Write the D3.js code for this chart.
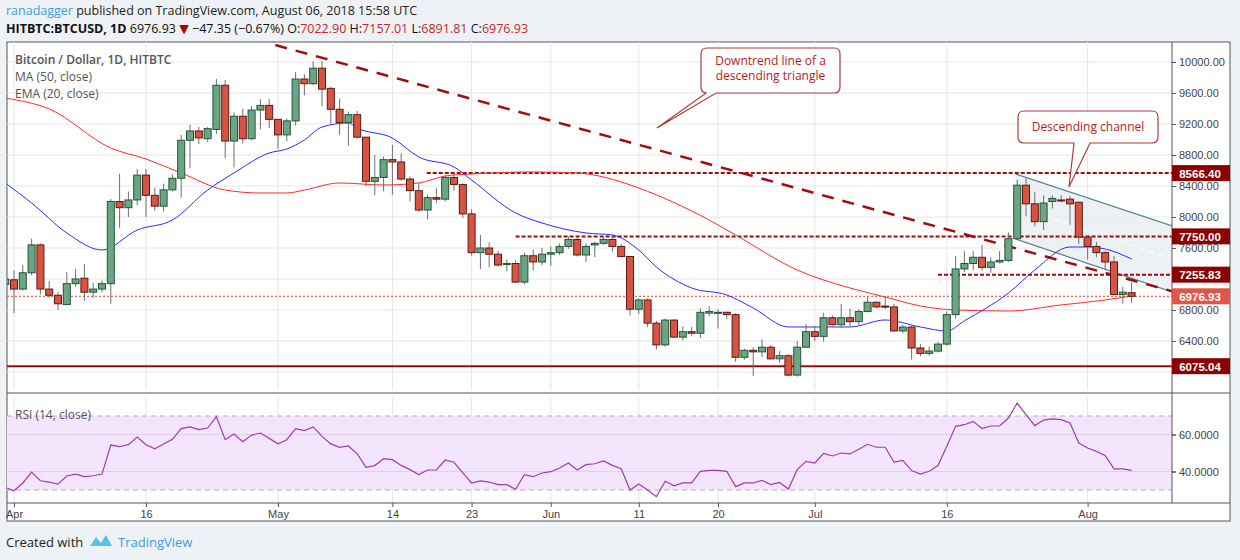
<!DOCTYPE html>
<html><head><meta charset="utf-8">
<script src="https://cdn.jsdelivr.net/npm/d3@7"></script>
<style>
body{margin:0;background:#eef2f6;font-family:"Open Sans","DejaVu Sans",sans-serif;}
svg{display:block}
</style></head><body>
<svg id="c" width="1240" height="560"></svg>
<script>
// ---- data (day index 0 = 2018-03-31) ----
const ohlc = [
[7130,7250,7050,7200],[7190,7310,6760,7070],[7070,7380,7050,7280],[7280,7720,7250,7640],[7640,7660,7000,7070],
[7070,7170,6960,6990],[6990,7030,6800,6880],[6870,7290,6860,7140],[7140,7330,7100,7200],[7210,7390,6920,7030],
[7030,7150,6960,7070],[7070,7180,7030,7140],[7140,8230,6880,8200],[8200,8560,7860,8120],[8120,8330,8000,8220],
[8220,8620,8150,8540],[8540,8620,8000,8280],[8280,8380,8080,8140],[8140,8430,8070,8350],[8350,8550,8330,8500],
[8500,9060,8250,8990],[8990,9190,8630,9110],[9110,9160,8940,9020],[9010,9160,8970,9140],[9130,9780,9070,9700],
[9700,9770,8760,8980],[8980,9350,8640,9300],[9300,9400,8950,9010],[9010,9430,8990,9380],[9380,9520,9130,9440],
[9440,9520,9150,9260],[9260,9260,8880,9060],[9060,9270,8980,9240],[9240,9870,9180,9780],[9780,9840,9570,9720],
[9720,10010,9700,9920],[9920,10010,9430,9650],[9660,9680,9200,9390],[9390,9530,9060,9220],[9220,9360,8920,9320],
[9320,9370,9010,9030],[9030,9030,8400,8460],[8460,8800,8280,8510],[8510,8780,8330,8740],[8740,8930,8290,8710],
[8710,8820,8470,8490],[8490,8520,8200,8340],[8340,8440,8070,8090],[8090,8290,7970,8250],[8250,8370,8180,8230],
[8230,8540,8200,8510],[8510,8560,8340,8420],[8420,8430,7990,8040],[8040,8100,7500,7540],[7540,7770,7330,7600],
[7600,7670,7350,7520],[7520,7560,7360,7380],[7390,7450,7300,7400],[7400,7440,7150,7160],[7160,7540,7130,7500],
[7500,7580,7310,7420],[7420,7600,7380,7520],[7520,7620,7370,7540],[7540,7660,7510,7620],[7620,7750,7590,7710],
[7710,7730,7490,7510],[7510,7660,7420,7620],[7640,7680,7480,7660],[7660,7750,7640,7710],[7710,7750,7550,7620],
[7620,7650,7480,7490],[7490,7500,6730,6810],[6810,6950,6750,6930],[6930,6950,6580,6630],[6630,6660,6290,6350],
[6350,6690,6330,6670],[6670,6680,6440,6450],[6450,6590,6410,6520],[6520,6580,6460,6500],[6500,6820,6440,6770],
[6760,6850,6720,6780],[6760,6810,6560,6770],[6770,6780,6680,6740],[6740,6760,6130,6190],[6190,6300,6160,6280],
[6280,6320,5950,6260],[6260,6420,6190,6320],[6320,6350,6160,6170],[6170,6270,6120,6210],[6210,6230,5950,5960],
[5960,6400,5940,6320],[6320,6620,6310,6520],[6520,6590,6400,6460],[6460,6760,6390,6700],[6700,6730,6600,6610],
[6610,6880,6570,6700],[6700,6820,6590,6650],[6650,6810,6600,6780],[6780,6970,6770,6900],[6900,6910,6820,6840],
[6850,6980,6810,6840],[6840,6880,6520,6530],[6530,6610,6500,6580],[6580,6600,6160,6310],[6310,6360,6200,6240],
[6240,6330,6210,6270],[6270,6390,6250,6360],[6360,6780,6340,6740],[6740,7500,6690,7330],[7330,7560,7290,7400],
[7400,7560,7310,7480],[7480,7640,7310,7350],[7350,7480,7280,7420],[7420,7560,7400,7440],[7440,7800,7420,7720],
[7720,8480,7700,8410],[8410,8500,8010,8170],[8170,8320,7880,7940],[7940,8280,7830,8180],[8200,8280,8110,8240],
[8220,8280,8190,8210],[8230,8270,7900,8170],[8190,8200,7650,7740],[7740,7760,7450,7620],[7620,7680,7480,7540],
[7540,7560,7330,7420],[7420,7500,6990,7000],[7000,7100,6880,7030],[7022.90,7157.01,6891.81,6976.93]];

const maDays   = [0,5,12,16,20,25,29,32,34,38,43,47,50,53,60,65,68,70,72,80,83,90,96,100,104,108,114,120,125,128];
const maValues = [9535,9394,8890,8748,8568,8348,8310,8310,8348,8439,8413,8439,8529,8555,8581,8568,8516,8452,8374,7961,7768,7316,7084,6968,6852,6800,6787,6865,6929,6981];
const emaDays   = [0,3,7,11,15,19,23,26,30,32,34,36,39,40,44,47,51,53,58,61,66,69,72,74,78,82,85,89,96,100,104,107,109,114,117,121,123,125,128];
const emaValues = [8439,8181,7794,7574,7832,7961,8348,8568,8826,8877,8994,9161,9213,9148,9019,8774,8645,8477,8052,7923,7794,7768,7574,7355,7084,6994,6826,6581,6581,6671,6581,6529,6660,7019,7316,7613,7613,7587,7458];
const rsi = [31.4,29.6,33.8,39.7,35,34.3,33.2,37.6,38.6,37.2,37.7,38.6,54.3,53.4,54.5,58.6,54.5,52.3,54.9,57.4,
63.2,64.1,62.6,63.5,69.6,57.2,60.3,56.1,59.7,60.8,57.9,55,57.2,63.2,62.1,64.1,59,54.9,53.1,53.8,
49.5,42.3,43.2,46.9,46.4,43.3,41,38.3,40.8,40.8,46.2,45,39.2,33.8,34.9,34.3,32.9,32.9,30.4,38.3,
37.2,39.2,39.9,41.9,44.6,40.8,43.7,44.2,45.7,43.3,41.5,30,33.2,30,26.4,34.7,32.3,33.8,33.8,40.1,
40.6,40.6,40.1,31.8,33.8,33.8,35.2,32.9,34.1,30.5,41,45.5,44.6,49.8,48.4,50,49.5,52,54.7,53.1,
53.1,45.1,46,40.5,38.6,40.1,43.2,53.6,64.4,65.3,67.1,63.2,64.6,64.6,68.9,77,70.7,64.8,67.8,68.4,
68,66.2,55.4,52.7,50.9,48.7,41.4,41.4,40.6];
const xTickDays   = [1,16,31,44,53,62,72,81,92,107,123];
const xTickLabels = ["Apr","16","May","14","23","Jun","11","20","Jul","16","Aug"];
const priceTicks  = [6400,6800,7600,8000,8400,8800,9200,9600,10000];
const levels      = [{v:8566.40,from:47.9,dash:"4,2"},{v:7750.00,from:58,dash:"4,2"},{v:7255.83,from:106,dash:"4,2"},{v:6075.04,from:-2,dash:null}];
const trendLine   = [[30.7,10219],[133,7030]];
const chanUpper   = [[114.8,8555],[133,7871]];
const chanLower   = [[114.8,7716],[133,7019]];

// ---- scales ----
const svg = d3.select("#c");
const L=7, R=1172, T=42, MB=390, RT=397, RB=503;
const x = d3.scaleLinear().domain([0,128]).range([5.2,1131.6]);
const y = d3.scaleLinear().domain([6000,10000]).range([372,62]);
const yr = d3.scaleLinear().domain([30,70]).range([490,416]);

svg.append("rect").attr("x",L).attr("y",T).attr("width",1230-L).attr("height",RB+18-T).attr("fill","#fff").attr("stroke","#555");
const defs=svg.append("defs");
defs.append("clipPath").attr("id","cm").append("rect").attr("x",L).attr("y",T).attr("width",R-L).attr("height",MB-T);
defs.append("clipPath").attr("id","cr").append("rect").attr("x",L).attr("y",RT).attr("width",R-L).attr("height",RB-RT);

const gm=svg.append("g").attr("clip-path","url(#cm)");
const gr=svg.append("g").attr("clip-path","url(#cr)");

xTickDays.forEach(d=>{
  [gm,gr].forEach(g=>g.append("line").attr("x1",x(d)).attr("x2",x(d)).attr("y1",T).attr("y2",RB).attr("stroke","#e6e6e6"));
});
priceTicks.concat([6000,7200]).forEach(p=>gm.append("line").attr("x1",L).attr("x2",R).attr("y1",y(p)).attr("y2",y(p)).attr("stroke","#e6e6e6"));

const cpoly=[chanUpper[0],chanUpper[1],chanLower[1],chanLower[0]];
gm.append("path").attr("d",d3.line().x(d=>x(d[0])).y(d=>y(d[1]))(cpoly)+"Z").attr("fill","#e9edf1").attr("opacity",0.8);
gm.append("line").attr("x1",x(chanUpper[0][0])).attr("y1",y((chanUpper[0][1]+chanLower[0][1])/2)).attr("x2",x(133)).attr("y2",y((chanUpper[1][1]+chanLower[1][1])/2)).attr("stroke","#fff").attr("stroke-dasharray","6,4");
[chanUpper,chanLower].forEach(c=>gm.append("line").attr("x1",x(c[0][0])).attr("y1",y(c[0][1])).attr("x2",x(c[1][0])).attr("y2",y(c[1][1])).attr("stroke","#4e7f86").attr("stroke-width",1.2));

levels.forEach(l=>{
  const ln=gm.append("line").attr("x1",x(l.from)).attr("x2",R).attr("y1",y(l.v)).attr("y2",y(l.v)).attr("stroke","#9e0b0b").attr("stroke-width",2);
  if(l.dash) ln.attr("stroke-dasharray",l.dash);
});
const last=ohlc[ohlc.length-1][3];
gm.append("line").attr("x1",L).attr("x2",R).attr("y1",y(last)).attr("y2",y(last)).attr("stroke","#e2402e").attr("stroke-dasharray","2,2");

gm.append("path").datum(maDays.map((d,i)=>[d,maValues[i]])).attr("d",d3.line().curve(d3.curveMonotoneX).x(d=>x(d[0])).y(d=>y(d[1]))).attr("fill","none").attr("stroke","#ff2a2a").attr("stroke-width",1);
gm.append("path").datum(emaDays.map((d,i)=>[d,emaValues[i]])).attr("d",d3.line().curve(d3.curveMonotoneX).x(d=>x(d[0])).y(d=>y(d[1]))).attr("fill","none").attr("stroke","#2b2bff").attr("stroke-width",1);

gm.append("line").attr("x1",x(trendLine[0][0])).attr("y1",y(trendLine[0][1])).attr("x2",x(trendLine[1][0])).attr("y2",y(trendLine[1][1])).attr("stroke","#a00d0d").attr("stroke-width",2.5).attr("stroke-dasharray","12,9");

const cg=gm.selectAll("g.k").data(ohlc).join("g");
cg.append("line").attr("x1",(d,i)=>x(i)).attr("x2",(d,i)=>x(i)).attr("y1",d=>y(d[1])).attr("y2",d=>y(d[2])).attr("stroke","#6f6f6f");
cg.append("rect").attr("x",(d,i)=>x(i)-3.5).attr("width",7)
  .attr("y",d=>y(Math.max(d[0],d[3]))).attr("height",d=>Math.max(1,Math.abs(y(d[0])-y(d[3]))))
  .attr("fill",d=>d[3]>=d[0]?"#6ba583":"#d75442").attr("stroke",d=>d[3]>=d[0]?"#225437":"#5b1a13");

gr.append("rect").attr("x",L).attr("width",R-L).attr("y",yr(70)).attr("height",yr(30)-yr(70)).attr("fill","#f3e6fc");
[40,60].forEach(v=>gr.append("line").attr("x1",L).attr("x2",R).attr("y1",yr(v)).attr("y2",yr(v)).attr("stroke","#e0d0ea"));
[30,70].forEach(v=>gr.append("line").attr("x1",L).attr("x2",R).attr("y1",yr(v)).attr("y2",yr(v)).attr("stroke","#b9a9c0").attr("stroke-dasharray","5,4"));
gr.append("path").datum(rsi).attr("d",d3.line().x((d,i)=>x(i)).y(d=>yr(d))).attr("fill","none").attr("stroke","#a23ab5").attr("stroke-width",1.2);
svg.append("text").attr("x",15).attr("y",419).attr("font-size",12).attr("fill","#555").text("RSI (14, close)");

svg.append("line").attr("x1",L).attr("x2",1230).attr("y1",MB+3).attr("y2",MB+3).attr("stroke","#555");
svg.append("line").attr("x1",L).attr("x2",1230).attr("y1",RB).attr("y2",RB).attr("stroke","#555");
svg.append("line").attr("x1",R).attr("x2",R).attr("y1",T).attr("y2",RB).attr("stroke","#555");

const ya=svg.append("g").attr("transform",`translate(${R},0)`).call(d3.axisRight(y).tickValues(priceTicks).tickFormat(d3.format(".2f")).tickSize(4));
ya.select(".domain").remove();
ya.selectAll("text").attr("font-size",11).attr("fill","#444").attr("font-family","Liberation Sans, Arial");
ya.selectAll("line").attr("stroke","#555");
const ra=svg.append("g").attr("transform",`translate(${R},0)`).call(d3.axisRight(yr).tickValues([40,60]).tickFormat(d3.format(".4f")).tickSize(4));
ra.select(".domain").remove();
ra.selectAll("text").attr("font-size",11).attr("fill","#444").attr("font-family","Liberation Sans, Arial");
levels.map(l=>({v:l.v,c:"#8b0000"})).concat([{v:last,c:"#e0574a"}]).forEach(l=>{
  svg.append("rect").attr("x",R).attr("y",y(l.v)-8).attr("width",58).attr("height",16).attr("fill",l.c);
  svg.append("text").attr("x",R+28).attr("y",y(l.v)+4.5).attr("text-anchor","middle").attr("font-size",11.5).attr("font-weight","bold").attr("fill","#fff").attr("font-family","Liberation Sans, Arial").text(d3.format(".2f")(l.v));
});

const xa=svg.append("g").attr("transform",`translate(0,${RB})`).call(d3.axisBottom(x).tickValues(xTickDays).tickFormat((d,i)=>xTickLabels[i]).tickSize(4));
xa.select(".domain").remove();
xa.selectAll("text").attr("font-size",11).attr("fill","#444").attr("font-family","Liberation Sans, Arial");
xa.selectAll("line").attr("stroke","#555");

const lg=svg.append("g").attr("font-size",12).attr("fill","#555");
lg.append("text").attr("x",15).attr("y",64).attr("font-weight","600").text("Bitcoin / Dollar, 1D, HITBTC");
lg.append("text").attr("x",15).attr("y",81).text("MA (50, close)");
lg.append("text").attr("x",15).attr("y",98).text("EMA (20, close)");

const h1=svg.append("text").attr("x",6).attr("y",15).attr("font-size",12.5).attr("fill","#222");
h1.append("tspan").attr("fill","#3aa0d8").text("ranadagger");
h1.append("tspan").text(" published on TradingView.com, August 06, 2018 15:58 UTC");
const h2=svg.append("text").attr("x",6).attr("y",33).attr("font-size",12.5).attr("fill","#111");
h2.append("tspan").attr("font-weight","bold").text("HITBTC:BTCUSD, 1D ");
h2.append("tspan").text(" 6976.93 ");
h2.append("tspan").attr("fill","#a00").text("▼");
h2.append("tspan").text(" −47.35 (−0.67%) O:");
h2.append("tspan").attr("fill","#c62828").text("7022.90");
h2.append("tspan").text(" H:");
h2.append("tspan").attr("fill","#c62828").text("7157.01");
h2.append("tspan").text(" L:");
h2.append("tspan").attr("fill","#c62828").text("6891.81");
h2.append("tspan").text(" C:");
h2.append("tspan").attr("fill","#c62828").text("6976.93");

function callout(bx,by,bw,bh,px,tip,lines){
  const p=`M${bx+6},${by} H${bx+bw-6} Q${bx+bw},${by} ${bx+bw},${by+6} V${by+bh-6} Q${bx+bw},${by+bh} ${bx+bw-6},${by+bh} H${px[1]} L${tip[0]},${tip[1]} L${px[0]},${by+bh} H${bx+6} Q${bx},${by+bh} ${bx},${by+bh-6} V${by+6} Q${bx},${by} ${bx+6},${by}Z`;
  svg.append("path").attr("d",p).attr("fill","#fff").attr("stroke","#b03a3a").attr("stroke-width",1.2);
  lines.forEach((t,i)=>svg.append("text").attr("x",bx+bw/2).attr("y",by+(lines.length>1?17:20)+i*15).attr("text-anchor","middle").attr("font-size",12).attr("fill","#b71c1c").text(t));
}
callout(701,48,139,45,[706,716],[657,128],["Downtrend line of a","descending triangle"]);
callout(1018,111,140,32,[1074,1090],[1069,187],["Descending channel"]);

const f=svg.append("text").attr("x",6).attr("y",547).attr("font-size",13).attr("fill","#222");
f.append("tspan").text("Created with ");
svg.append("path").attr("d","M90,546 l6,-9 l5,6 l5,-8 l6,11 z").attr("fill","#5bc0eb");
svg.append("text").attr("x",118).attr("y",547).attr("font-size",13).attr("fill","#3aa0d8").text("TradingView");
</script></body></html>
